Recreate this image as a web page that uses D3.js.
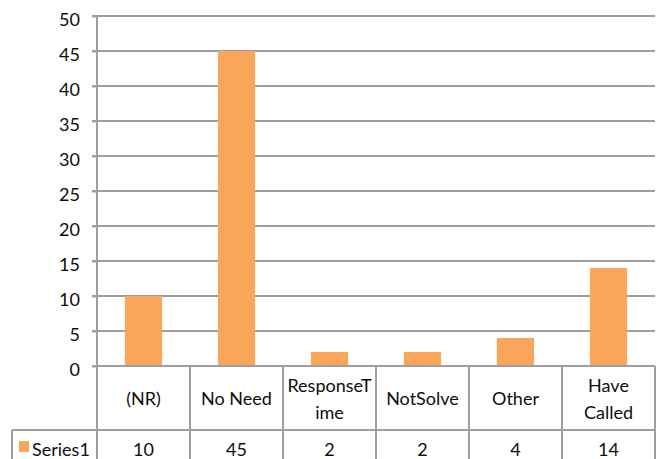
<!DOCTYPE html>
<html>
<head>
<meta charset="utf-8">
<script src="https://cdn.jsdelivr.net/npm/d3@7"></script>
<style>
  html, body { margin: 0; padding: 0; background: #fff; }
  svg { display: block; }
  text { font-family: Lato, "Noto Sans", sans-serif; fill: #0d0d0d; }
</style>
</head>
<body>
<svg id="chart" width="663" height="459"></svg>
<script>
const categories = ["(NR)", "No Need", "ResponseTime", "NotSolve", "Other", "Have Called"];
const categoryLines = [["(NR)"], ["No Need"], ["ResponseT", "ime"], ["NotSolve"], ["Other"], ["Have", "Called"]];
const seriesName = "Series1";
const values = [10, 45, 2, 2, 4, 14];
const yTicks = [0, 5, 10, 15, 20, 25, 30, 35, 40, 45, 50];

(function () {
const svg = d3.select("#chart");
const plotLeft = 97, plotRight = 655, plotTop = 16, zeroY = 366;
const rowBottom = 430, tableBottom = 470, legendLeft = 12;
const gridColor = "#9e9e9e";
const barColor = "#f9a65a";
const fontSize = 18;

const x = d3.scaleBand().domain(categories).range([plotLeft, plotRight]).padding(0);
const y = d3.scaleLinear().domain([0, 50]).range([zeroY, plotTop]);

// gridlines
svg.append("g").selectAll("line").data(yTicks.filter(d => d > 0)).join("line")
  .attr("x1", plotLeft - 5).attr("x2", plotRight)
  .attr("y1", d => y(d)).attr("y2", d => y(d))
  .attr("stroke", gridColor).attr("stroke-width", 2);

// y axis via d3.axisLeft
const yAxis = svg.append("g").attr("transform", `translate(${plotLeft},0)`)
  .call(d3.axisLeft(y).tickValues(yTicks).tickSize(5).tickPadding(12).tickSizeOuter(0));
yAxis.select(".domain").remove();
yAxis.selectAll(".tick line").attr("stroke", gridColor).attr("stroke-width", 2);
yAxis.selectAll(".tick text")
  .attr("font-family", "Lato, 'Noto Sans', sans-serif")
  .attr("font-size", fontSize).attr("fill", "#0d0d0d").attr("dy", "0.55em");

// bars
const bw = x.bandwidth() * 0.4;
svg.append("g").selectAll("rect").data(values).join("rect")
  .attr("x", (d, i) => x(categories[i]) + (x.bandwidth() - bw) / 2)
  .attr("width", bw)
  .attr("y", d => y(d))
  .attr("height", d => y(0) - y(d))
  .attr("fill", barColor);

// table lines
const tg = svg.append("g").attr("stroke", gridColor).attr("stroke-width", 2);
tg.append("line").attr("x1", plotLeft - 5).attr("x2", plotRight).attr("y1", zeroY).attr("y2", zeroY);
tg.append("line").attr("x1", legendLeft).attr("x2", plotRight).attr("y1", rowBottom).attr("y2", rowBottom);
tg.append("line").attr("x1", plotLeft).attr("x2", plotLeft).attr("y1", plotTop).attr("y2", tableBottom);
tg.append("line").attr("x1", legendLeft).attr("x2", legendLeft).attr("y1", rowBottom).attr("y2", tableBottom);
tg.selectAll("line.col").data(categories).join("line").attr("class", "col")
  .attr("x1", d => x(d) + x.bandwidth()).attr("x2", d => x(d) + x.bandwidth())
  .attr("y1", zeroY).attr("y2", tableBottom);

// category labels
const lineGap = 27;
const midY = (zeroY + rowBottom) / 2 + 1;
svg.append("g").selectAll("text").data(categories).join("text")
  .attr("text-anchor", "middle")
  .attr("font-size", fontSize)
  .each(function (d, i) {
    const lines = categoryLines[i];
    const n = lines.length;
    const cx = x(d) + x.bandwidth() / 2;
    d3.select(this).selectAll("tspan").data(lines).join("tspan")
      .attr("x", cx)
      .attr("y", (l, j) => midY + (j - (n - 1) / 2) * lineGap)
      .attr("dy", "0.35em")
      .text(l => l);
  });

// values row
svg.append("g").selectAll("text").data(values).join("text")
  .attr("x", (d, i) => x(categories[i]) + x.bandwidth() / 2)
  .attr("y", 456)
  .attr("text-anchor", "middle")
  .attr("font-size", fontSize)
  .text(d => d);

// legend key
svg.append("rect").attr("x", 19).attr("y", 441).attr("width", 10).attr("height", 11).attr("fill", barColor);
svg.append("text").attr("x", 32).attr("y", 456).attr("font-size", fontSize).text(seriesName);
})();
</script>
</body>
</html>
